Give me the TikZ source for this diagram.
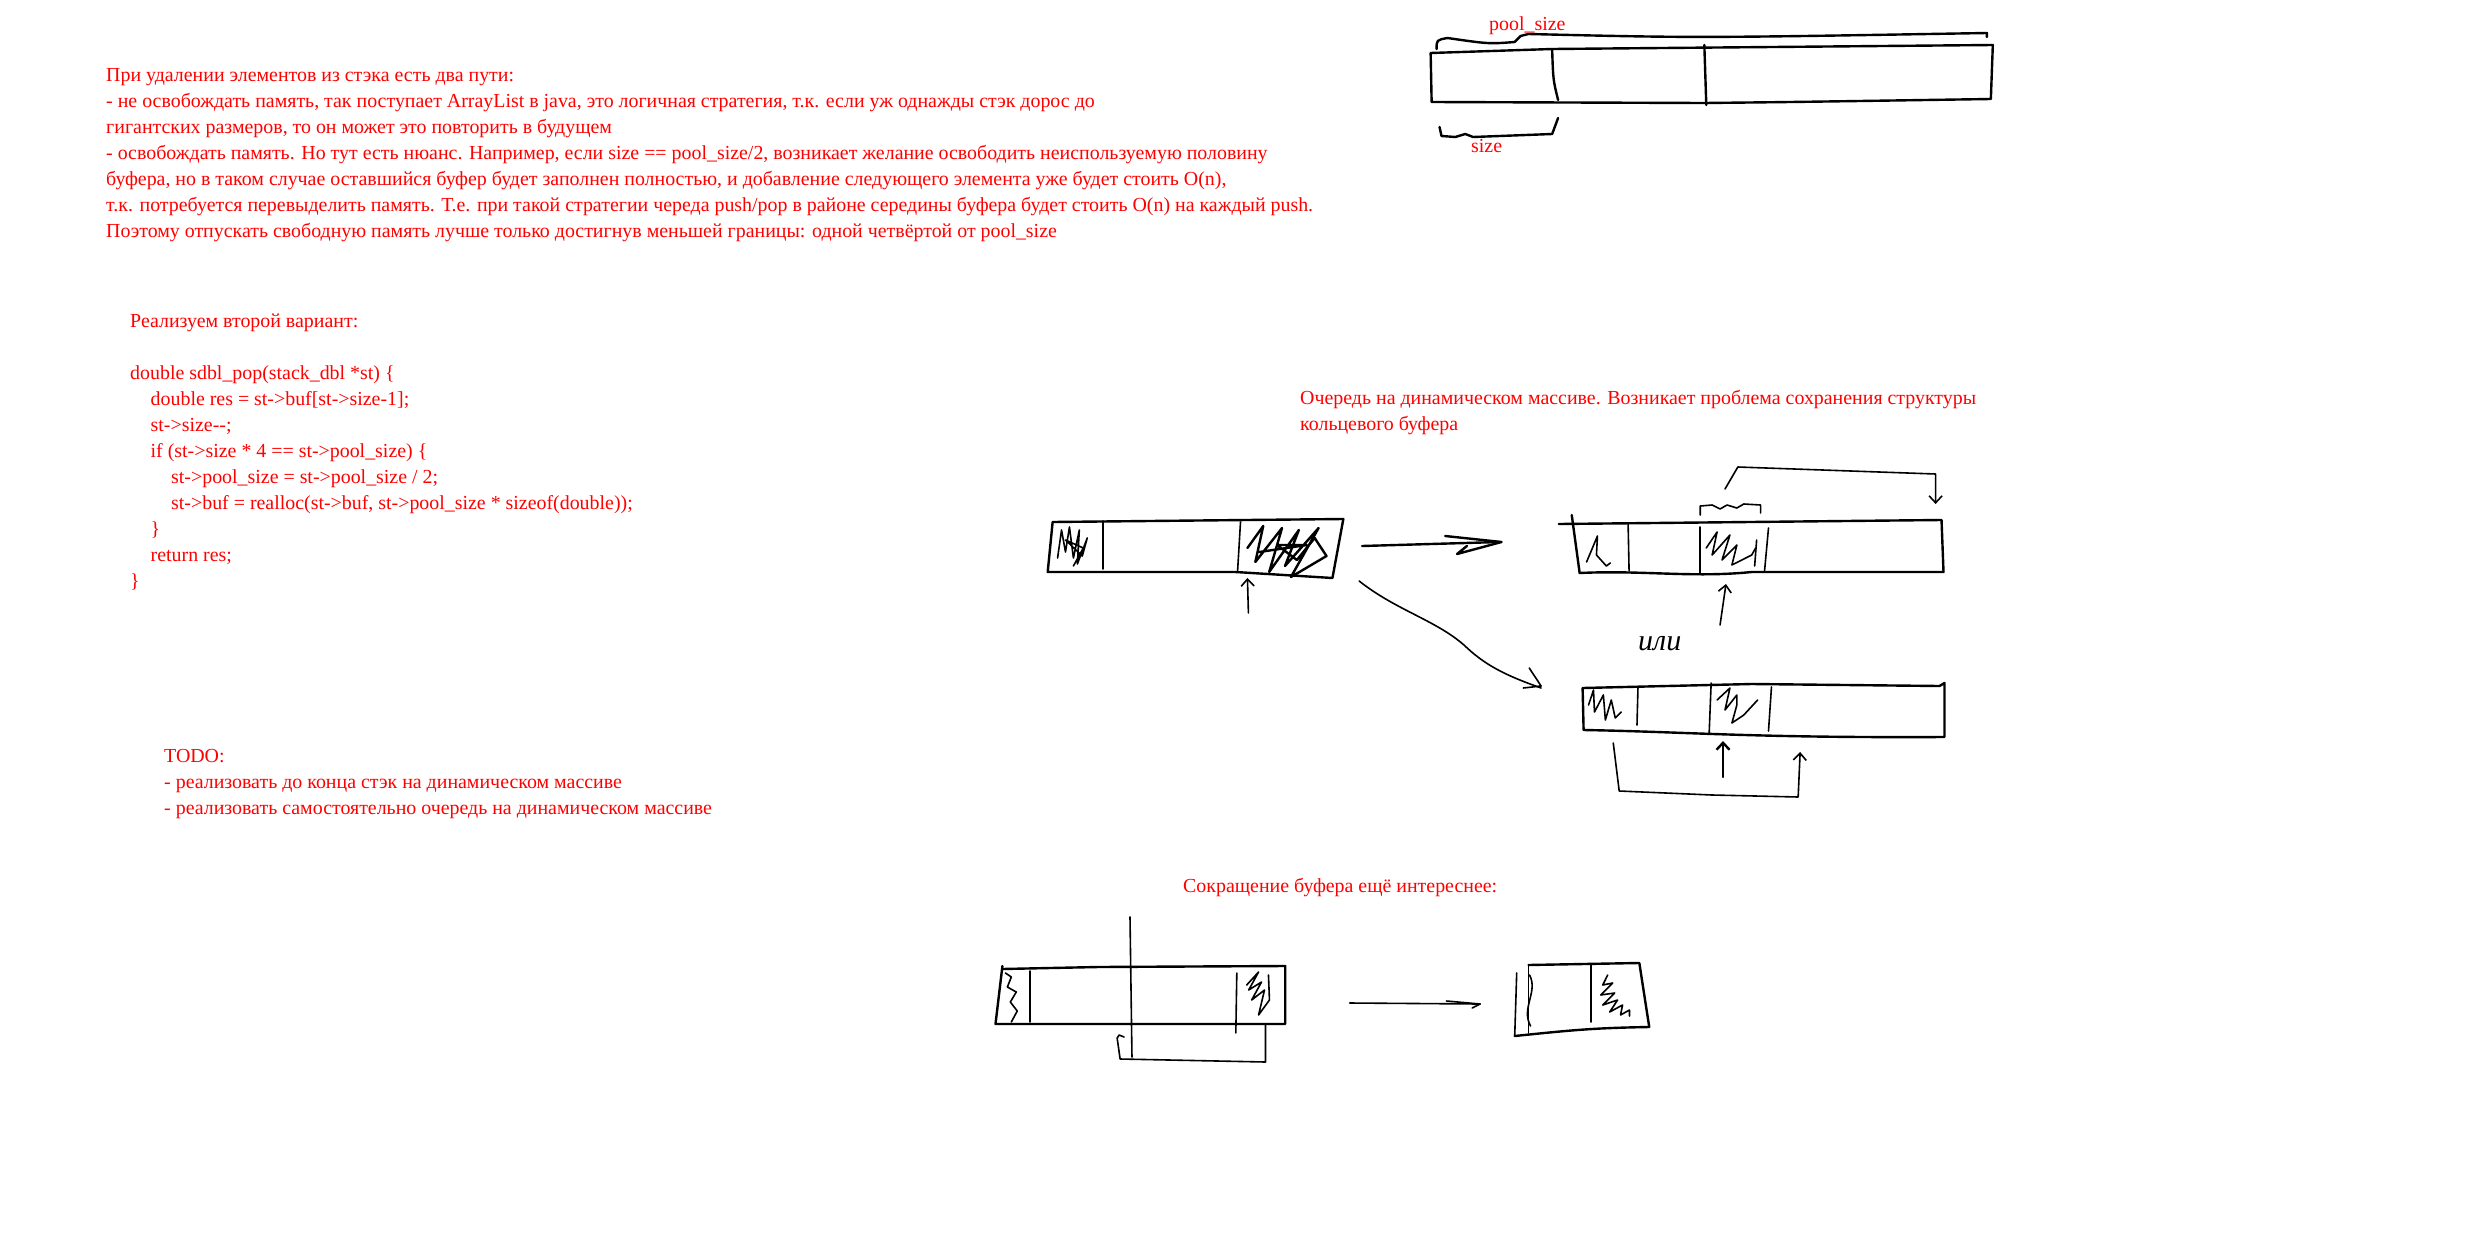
\documentclass[tikz,border=0pt]{standalone}
\usepackage{fontspec}
\setmainfont{Liberation Serif}
\usetikzlibrary{arrows.meta,calc}
\definecolor{notered}{HTML}{FF0000}
\definecolor{pencil}{HTML}{000000}
\newcommand{\ind}{\hspace*{20.5pt}}

\begin{document}
\begin{tikzpicture}[x=1pt,y=-1pt,
    pen/.style={line width=2.4pt, pencil, line cap=round, line join=round},
    thinpen/.style={line width=1.6pt, pencil, line cap=round, line join=round},
    remark/.style={notered, font=\fontsize{19.9}{26}\selectfont, align=left, anchor=base west, inner sep=0pt},
    >={Straight Barb[length=7pt,width=13pt]}]
    \useasboundingbox[fill=white] (0,0) rectangle (2477,1237);

    % Notes on the left (base = last line)
    \node[remark] (intro) at (106,237) {При удалении элементов из стэка есть два пути:\\
        - не освобождать память, так поступает ArrayList в java, это логичная стратегия, т.к. если уж однажды стэк дорос до\\
        гигантских размеров, то он может это повторить в будущем\\
        - освобождать память. Но тут есть нюанс. Например, если size == pool\_size/2, возникает желание освободить неиспользуемую половину\\
        буфера, но в таком случае оставшийся буфер будет заполнен полностью, и добавление следующего элемента уже будет стоить O(n),\\
        т.к. потребуется перевыделить память. Т.е. при такой стратегии череда push/pop в районе середины буфера будет стоить O(n) на каждый push.\\
        Поэтому отпускать свободную память лучше только достигнув меньшей границы: одной четвёртой от pool\_size};

    \node[remark] (code) at (130,587) {Реализуем второй вариант:\\[26pt]
        double sdbl\_pop(stack\_dbl *st) \{\\
        \ind double res = st->buf[st->size-1];\\
        \ind st->size-{}-;\\
        \ind if (st->size * 4 == st->pool\_size) \{\\
        \ind\ind st->pool\_size = st->pool\_size / 2;\\
        \ind\ind st->buf = realloc(st->buf, st->pool\_size * sizeof(double));\\
        \ind \}\\
        \ind return res;\\
        \}};

    \node[remark] (todo) at (164,814) {TODO:\\
        - реализовать до конца стэк на динамическом массиве\\
        - реализовать самостоятельно очередь на динамическом массиве};

    % Stack buffer (top right)
    \node[remark] (poolsize) at (1489,30) {pool\_size};
    \node[remark] (size) at (1471,152) {size};
    \begin{scope}[xshift=16.8pt, xscale=0.988]
        \draw[pen] (1431,53) -- (1554,49) -- (2000,45) -- (1998,99) .. controls (1800,102) .. (1708,103) -- (1432,102) -- cycle;
        \draw[pen] (1554,50) .. controls (1555,80) .. (1560,100);
        \draw[pen] (1708,45) -- (1710,105);
        \draw[pen] (1437,49) .. controls (1437,40) .. (1448,38) .. controls (1490,44) .. (1516,42)
            -- (1522,36) -- (1530,34) .. controls (1700,38) .. (1994,33) -- (1994,37);
        \draw[pen] (1440,127) -- (1442,136) -- (1456,137) -- (1466,134) -- (1474,137) -- (1554,134) -- (1560,118);
    \end{scope}

    % Queue on a dynamic array
    \node[remark] (queuenote) at (1300,430) {Очередь на динамическом массиве. Возникает проблема сохранения структуры\\
        кольцевого буфера};
    \node[font=\fontsize{30}{30}\selectfont\itshape, pencil, anchor=base west, inner sep=0pt] (ili) at (1638,650) {или};

    \begin{scope}[xshift=11.475pt, xscale=0.98875]
        % old buffer
        \draw[pen] (1053,522) -- (1347,519) -- (1336,578) -- (1238,572) -- (1048,572) -- cycle;
        \draw[thinpen] (1104,521) -- (1104,569);
        \draw[thinpen] (1243,522) -- (1240,572);
        \draw[thinpen] (1058,558) -- (1062,530) -- (1066,552) -- (1070,527) -- (1074,558) -- (1080,530)
            -- (1078,564) -- (1088,538) -- (1083,556) -- (1066,540) -- (1084,548) -- (1074,566);
        \draw[pen] (1250,548) -- (1266,526) -- (1258,562) -- (1285,528) -- (1272,572) -- (1302,530)
            -- (1288,566) -- (1322,528) -- (1294,577) -- (1330,556) -- (1318,538) -- (1300,560)
            -- (1280,545) -- (1310,545) -- (1262,552);
        \draw[thinpen, ->] (1251,613) -- (1250,578);

        % arrow to the right
        \draw[pen] (1366,546) -- (1505,542);
        \draw[pen] (1450,536) -- (1507,542) -- (1462,554) -- (1472,546);

        % arrow down
        \draw[thinpen] (1363,581) .. controls (1400,610) and (1440,620) .. (1469,645)
            .. controls (1490,665) and (1510,675) .. (1547,688);
        \draw[thinpen] (1535,668) -- (1547,686) -- (1529,688);

        % first variant
        \draw[pen] (1565,524) -- (1952,520) -- (1954,572) -- (1760,572) .. controls (1700,578) and (1650,570) .. (1586,573);
        \draw[pen] (1578,515) -- (1586,573);
        \draw[thinpen] (1635,523) -- (1636,571);
        \draw[thinpen] (1708,527) -- (1708,573);
        \draw[thinpen] (1777,528) -- (1773,571);
        \draw[thinpen] (1765,540) -- (1763,566);
        \draw[thinpen] (1593,562) -- (1604,536) -- (1603,555) -- (1613,566) -- (1617,563);
        \draw[thinpen] (1714,548) -- (1725,532) -- (1720,555) -- (1738,535) -- (1730,560) -- (1745,545)
            -- (1740,565) -- (1760,555) -- (1764,548);
        \draw[thinpen] (1708,515) -- (1708,506) -- (1720,505) -- (1728,509) -- (1735,505) -- (1745,508)
            -- (1752,504) -- (1769,505) -- (1769,513);
        \draw[thinpen, ->] (1733,489) -- (1746,467) -- (1946,474) -- (1946,504);
        \draw[thinpen, ->] (1728,625) -- (1734,584);

        % second variant
        \draw[pen] (1589,688) -- (1760,684) -- (1950,686) -- (1955,683) -- (1955,737)
            .. controls (1760,738) and (1700,732) .. (1590,730) -- cycle;
        \draw[thinpen] (1645,687) -- (1644,725);
        \draw[thinpen] (1719,683) -- (1717,733);
        \draw[thinpen] (1780,687) -- (1777,731);
        \draw[thinpen] (1595,705) -- (1600,690) -- (1601,712) -- (1610,695) -- (1612,720) -- (1618,700)
            -- (1622,718) -- (1628,712);
        \draw[thinpen] (1725,700) -- (1738,688) -- (1733,710) -- (1745,695) -- (1745,705) -- (1740,723)
            -- (1752,715) -- (1766,700);
        \draw[thinpen, ->] (1620,743) -- (1626,791) -- (1720,795) -- (1807,797) -- (1809,752);
        \draw[pen, ->] (1731,777) -- (1731,741);
    \end{scope}

    % Shrinking the buffer
    \node[remark] (shrinknote) at (1183,892) {Сокращение буфера ещё интереснее:};
    \begin{scope}[xshift=10.45pt, xscale=0.989]
        \draw[pen] (1003,969) -- (1100,967) -- (1289,966) -- (1289,1024) -- (996,1024) -- (1003,966);
        \draw[thinpen] (1031,971) -- (1031,1022);
        \draw[thinpen] (1240,973) -- (1239,1033);
        \draw[thinpen] (1006,973) -- (1012,977) -- (1008,987) -- (1017,992) -- (1011,1002) -- (1018,1011) -- (1012,1022);
        \draw[thinpen] (1250,985) -- (1262,972) -- (1252,990) -- (1265,982) -- (1255,1000) -- (1268,990)
            -- (1262,1015) -- (1273,1000) -- (1272,975);
        \draw[thinpen] (1132,917) -- (1134,1057);
        \draw[thinpen] (1269,1025) -- (1269,1062) -- (1122,1059) -- (1119,1038) -- (1121,1035) -- (1126,1037);
        \draw[thinpen] (1354,1003) -- (1486,1004);
        \draw[thinpen] (1452,1001) -- (1486,1004) -- (1478,1008);
        \draw[pen] (1535,965) -- (1647,963) -- (1657,1027) .. controls (1600,1028) and (1580,1030) .. (1521,1036);
        \draw[thinpen] (1535,965) -- (1535,1033);
        \draw[thinpen] (1523,973) -- (1521,1036);
        \draw[thinpen] (1536,975) .. controls (1545,992) and (1527,1008) .. (1537,1026);
        \draw[thinpen] (1598,965) -- (1598,1022);
        \draw[thinpen] (1615,975) -- (1610,985) -- (1620,983) -- (1608,995) -- (1622,993) -- (1610,1005)
            -- (1625,1000) -- (1617,1012) -- (1630,1005) -- (1628,1015) -- (1637,1010) -- (1637,1016);
    \end{scope}
\end{tikzpicture}
\end{document}
